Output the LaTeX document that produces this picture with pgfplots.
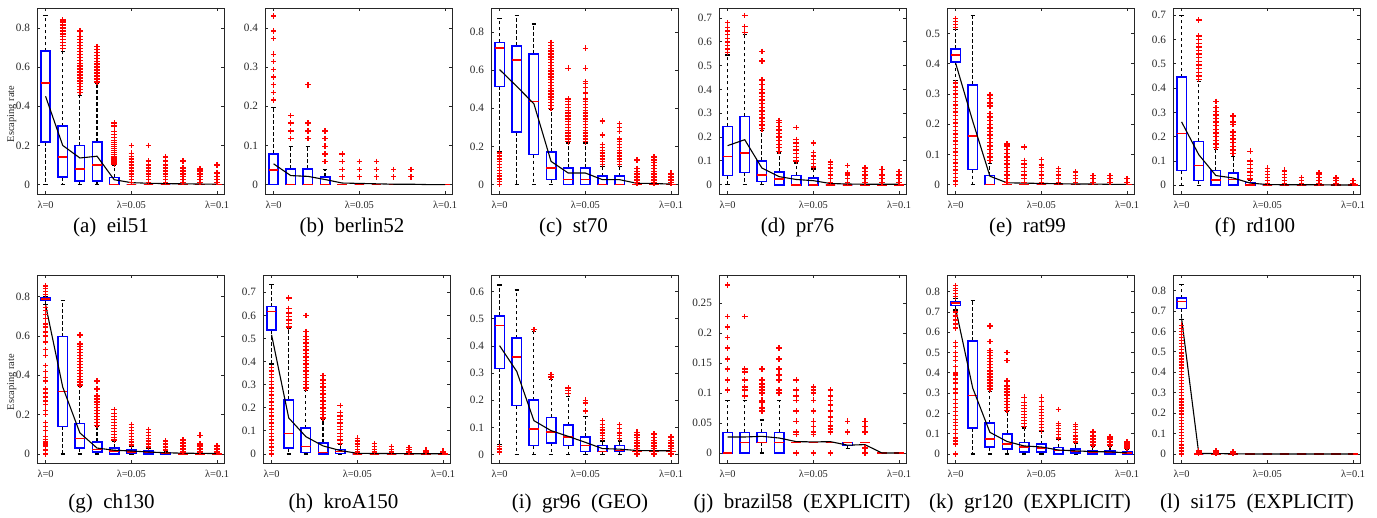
\documentclass[border=0pt]{standalone}
\usepackage{fontspec}
\setmainfont{Liberation Serif}
\usepackage{pgfplots}
\pgfplotsset{compat=1.18}
\usepgfplotslibrary{statistics}
\definecolor{axc}{rgb}{0.15,0.15,0.15}
\definecolor{mblue}{rgb}{0,0,1}
\definecolor{mred}{rgb}{1,0,0}
\pgfplotsset{
  panel/.style={
    scale only axis, anchor=north west, width=93.5pt,
    xmin=-0.5, xmax=10.4,
    xtick={0,5,10}, xticklabels={λ=0,λ=0.05,λ=0.1},
    tick align=inside,
    major tick length=1.6pt,
    axis line style={axc, line width=0.4pt},
    every tick/.style={axc, line width=0.4pt},
    tick label style={text=axc},
    xticklabel style={font=\fontsize{5.2}{6}\selectfont},
    yticklabel style={font=\fontsize{5.6}{6.5}\selectfont, /pgf/number format/fixed, /pgf/number format/precision=2},
    /pgf/number format/assume math mode=true,
    scaled y ticks=false,
    ylabel style={font=\fontsize{5.2}{6}\selectfont, text=axc, at={(axis description cs:-0.135,0.43)}, anchor=center},
    boxplot/draw direction=y,
    boxplot/box extend=0.55,
    boxplot/whisker extend=0.25,
    boxplot/every box/.style={draw=mblue, line width=0.8pt},
    boxplot/every median/.style={draw=mred, line width=0.8pt},
    boxplot/draw/lower whisker/.code={%
      \draw[draw=black, dash pattern=on 1.8pt off 1.2pt, line width=0.55pt]
        (boxplot cs:\pgfplotsboxplotvalue{lower quartile}) -- (boxplot cs:\pgfplotsboxplotvalue{lower whisker});
      \draw[draw=black, solid, line width=0.6pt]
        (boxplot whisker cs:\pgfplotsboxplotvalue{lower whisker},0) -- (boxplot whisker cs:\pgfplotsboxplotvalue{lower whisker},1);
    },
    boxplot/draw/upper whisker/.code={%
      \draw[draw=black, dash pattern=on 1.8pt off 1.2pt, line width=0.55pt]
        (boxplot cs:\pgfplotsboxplotvalue{upper quartile}) -- (boxplot cs:\pgfplotsboxplotvalue{upper whisker});
      \draw[draw=black, solid, line width=0.6pt]
        (boxplot whisker cs:\pgfplotsboxplotvalue{upper whisker},0) -- (boxplot whisker cs:\pgfplotsboxplotvalue{upper whisker},1);
    },
  },
  outl/.style={only marks, mark=+, mark size=1.4pt, color=mred, line width=0.7pt, mark options={solid}},
  meanl/.style={black, line width=0.55pt, mark=none},
}
\newcommand\bx[6]{\addplot[color=mblue, mark=none, boxplot prepared={draw position=#1, lower whisker=#2, lower quartile=#3, median=#4, upper quartile=#5, upper whisker=#6}] coordinates {};}
\newcommand\bxo[7]{\bx{#1}{#2}{#3}{#4}{#5}{#6}\addplot[outl] table[row sep=\\, x expr=#1, y index=0] {y\\#7\\};}
\begin{document}
\begin{tikzpicture}
\path[use as bounding box] (0,0) rectangle (688.5pt,-259pt);
% (a) eil51
\begin{axis}[panel, at={(18.5pt,-4pt)}, height=93pt, ymin=-0.048, ymax=0.902, ytick={0,0.2,0.4,0.6,0.8}, ylabel={Escaping rate}]
\bx{0}{0}{0.218}{0.519}{0.681}{0.865}
\bxo{1}{0}{0.039}{0.14}{0.298}{0.68}{0.695\\0.71\\0.725\\0.74\\0.755\\0.77\\0.785\\0.80\\0.815\\0.83\\0.84}
\bxo{2}{0}{0.019}{0.08}{0.199}{0.456}{0.47\\0.485\\0.50\\0.515\\0.53\\0.545\\0.56\\0.575\\0.59\\0.605\\0.62\\0.635\\0.65\\0.665\\0.68\\0.695\\0.71\\0.725\\0.74\\0.755\\0.785}
\bxo{3}{0}{0.019}{0.10}{0.218}{0.519}{0.525\\0.54\\0.555\\0.57\\0.585\\0.60\\0.615\\0.63\\0.645\\0.66\\0.675\\0.69\\0.705}
\bxo{4}{0}{0}{0}{0.037}{0.099}{0.105\\0.115\\0.125\\0.135\\0.145\\0.155\\0.165\\0.175\\0.185\\0.195\\0.205\\0.215\\0.225\\0.24\\0.255\\0.27\\0.30\\0.315}
\bxo{5}{0}{0}{0}{0}{0}{0.01\\0.025\\0.04\\0.055\\0.07\\0.085\\0.10\\0.115\\0.13\\0.145\\0.16\\0.20}
\bxo{6}{0}{0}{0}{0}{0}{0.01\\0.025\\0.04\\0.055\\0.07\\0.085\\0.10\\0.12\\0.20}
\bxo{7}{0}{0}{0}{0}{0}{0.01\\0.025\\0.04\\0.055\\0.07\\0.085\\0.10\\0.12\\0.14}
\bxo{8}{0}{0}{0}{0}{0}{0.01\\0.025\\0.04\\0.055\\0.07\\0.085\\0.12}
\bxo{9}{0}{0}{0}{0}{0}{0.01\\0.025\\0.04\\0.055\\0.07\\0.08}
\bxo{10}{0}{0}{0}{0}{0}{0.01\\0.025\\0.04\\0.06\\0.10}
\addplot[meanl] coordinates {(0,0.451)(1,0.20)(2,0.136)(3,0.145)(4,0.025)(5,0.01)(6,0.007)(7,0.005)(8,0.004)(9,0.003)(10,0.002)};
\end{axis}
% (b) berlin52
\begin{axis}[panel, at={(132.5pt,-4pt)}, height=93pt, ymin=-0.024, ymax=0.451, ytick={0,0.1,0.2,0.3,0.4}]
\bxo{0}{0}{0}{0.038}{0.078}{0.196}{0.216\\0.235\\0.255\\0.275\\0.294\\0.314\\0.333\\0.373\\0.392\\0.431}
\bxo{1}{0}{0}{0}{0.04}{0.098}{0.118\\0.137\\0.157\\0.176}
\bxo{2}{0}{0}{0}{0.04}{0.098}{0.118\\0.137\\0.157\\0.255}
\bxo{3}{0}{0}{0}{0.02}{0.039}{0.059\\0.078\\0.098\\0.118\\0.137}
\bxo{4}{0}{0}{0}{0}{0}{0.02\\0.039\\0.059\\0.078}
\bxo{5}{0}{0}{0}{0}{0}{0.02\\0.039\\0.059}
\bxo{6}{0}{0}{0}{0}{0}{0.02\\0.039\\0.059}
\bxo{7}{0}{0}{0}{0}{0}{0.02\\0.039}
\bxo{8}{0}{0}{0}{0}{0}{0.02\\0.039}
\bx{9}{0}{0}{0}{0}{0}
\bx{10}{0}{0}{0}{0}{0}
\addplot[meanl] coordinates {(0,0.053)(1,0.023)(2,0.021)(3,0.013)(4,0.004)(5,0.003)(6,0.002)(7,0.001)(8,0.001)(9,0)(10,0)};
\end{axis}
% (c) st70
\begin{axis}[panel, at={(245.5pt,-4pt)}, height=93pt, ymin=-0.049, ymax=0.926, ytick={0,0.2,0.4,0.6,0.8}]
\bxo{0}{0.175}{0.515}{0.716}{0.746}{0.873}{0\\0.015\\0.03\\0.045\\0.06\\0.075\\0.09\\0.105\\0.12\\0.135\\0.15\\0.165}
\bx{1}{0}{0.276}{0.653}{0.728}{0.887}
\bx{2}{0}{0.157}{0.435}{0.685}{0.842}
\bxo{3}{0}{0.026}{0.087}{0.171}{0.393}{0.40\\0.415\\0.43\\0.445\\0.46\\0.475\\0.49\\0.505\\0.52\\0.535\\0.55\\0.565\\0.58\\0.595\\0.61\\0.625\\0.64\\0.655\\0.67\\0.685\\0.70\\0.715\\0.73\\0.745}
\bxo{4}{0}{0}{0.026}{0.087}{0.218}{0.225\\0.24\\0.255\\0.27\\0.285\\0.30\\0.315\\0.33\\0.345\\0.36\\0.375\\0.39\\0.405\\0.42\\0.435\\0.45\\0.61}
\bxo{5}{0}{0}{0.026}{0.087}{0.218}{0.225\\0.24\\0.255\\0.27\\0.285\\0.30\\0.315\\0.33\\0.345\\0.36\\0.375\\0.39\\0.405\\0.42\\0.435\\0.45\\0.48\\0.51\\0.53\\0.54\\0.61\\0.715}
\bxo{6}{0}{0}{0}{0.044}{0.096}{0.105\\0.12\\0.135\\0.15\\0.165\\0.18\\0.195\\0.21\\0.26\\0.33\\0.335}
\bxo{7}{0}{0}{0}{0.044}{0.096}{0.105\\0.12\\0.135\\0.15\\0.165\\0.18\\0.195\\0.21\\0.225\\0.24\\0.28\\0.30\\0.32}
\bxo{8}{0}{0}{0}{0}{0}{0.01\\0.025\\0.04\\0.055\\0.07\\0.085\\0.13}
\bxo{9}{0}{0}{0}{0}{0}{0.01\\0.025\\0.04\\0.055\\0.07\\0.085\\0.10\\0.115\\0.13\\0.145}
\bxo{10}{0}{0}{0}{0}{0}{0.01\\0.025\\0.04\\0.055\\0.06}
\addplot[meanl] coordinates {(0,0.603)(1,0.515)(2,0.424)(3,0.122)(4,0.061)(5,0.061)(6,0.026)(7,0.026)(8,0.007)(9,0.006)(10,0.003)};
\end{axis}
% (d) pr76
\begin{axis}[panel, at={(359.5pt,-4pt)}, height=93pt, ymin=-0.039, ymax=0.742, ytick={0,0.1,0.2,0.3,0.4,0.5,0.6,0.7}]
\bxo{0}{0}{0.039}{0.119}{0.245}{0.545}{0.555\\0.57\\0.585\\0.60\\0.615\\0.63\\0.645\\0.66\\0.68}
\bxo{1}{0}{0.052}{0.133}{0.287}{0.63}{0.64\\0.665\\0.71}
\bxo{2}{0}{0.013}{0.042}{0.10}{0.227}{0.235\\0.25\\0.265\\0.28\\0.295\\0.31\\0.325\\0.34\\0.355\\0.37\\0.385\\0.40\\0.42\\0.44\\0.52\\0.56}
\bxo{3}{0}{0}{0.025}{0.053}{0.133}{0.14\\0.155\\0.17\\0.185\\0.20\\0.215\\0.23\\0.245\\0.26\\0.27}
\bxo{4}{0}{0}{0}{0.039}{0.091}{0.10\\0.115\\0.13\\0.145\\0.16\\0.175\\0.19\\0.24}
\bxo{5}{0}{0}{0}{0.027}{0.066}{0.075\\0.09\\0.105\\0.12\\0.135\\0.175}
\bxo{6}{0}{0}{0}{0}{0}{0.01\\0.025\\0.04\\0.055\\0.07\\0.085\\0.095}
\bxo{7}{0}{0}{0}{0}{0}{0.01\\0.025\\0.04\\0.05\\0.08}
\bxo{8}{0}{0}{0}{0}{0}{0.01\\0.025\\0.04\\0.055\\0.07}
\bxo{9}{0}{0}{0}{0}{0}{0.01\\0.025\\0.04\\0.065}
\bxo{10}{0}{0}{0}{0}{0}{0.01\\0.025\\0.04\\0.055}
\addplot[meanl] coordinates {(0,0.164)(1,0.189)(2,0.07)(3,0.034)(4,0.022)(5,0.017)(6,0.005)(7,0.003)(8,0.002)(9,0.002)(10,0.002)};
\end{axis}
% (e) rat99
\begin{axis}[panel, at={(473.5pt,-4pt)}, height=93pt, ymin=-0.031, ymax=0.585, ytick={0,0.1,0.2,0.3,0.4,0.5}]
\bxo{0}{0.345}{0.407}{0.43}{0.449}{0.513}{0\\0.012\\0.024\\0.036\\0.048\\0.06\\0.072\\0.084\\0.096\\0.108\\0.12\\0.132\\0.144\\0.156\\0.168\\0.18\\0.192\\0.204\\0.216\\0.228\\0.24\\0.252\\0.264\\0.276\\0.288\\0.30\\0.312\\0.324\\0.336\\0.52\\0.53\\0.54\\0.55}
\bx{1}{0}{0.05}{0.162}{0.33}{0.561}
\bxo{2}{0}{0}{0}{0.03}{0.07}{0.08\\0.092\\0.104\\0.116\\0.128\\0.14\\0.152\\0.164\\0.176\\0.188\\0.20\\0.212\\0.224\\0.236\\0.26\\0.27\\0.285\\0.297}
\bxo{3}{0}{0}{0}{0}{0}{0.008\\0.02\\0.032\\0.044\\0.056\\0.068\\0.08\\0.092\\0.104\\0.116\\0.128\\0.135}
\bxo{4}{0}{0}{0}{0}{0}{0.008\\0.02\\0.032\\0.044\\0.056\\0.068\\0.08\\0.125}
\bxo{5}{0}{0}{0}{0}{0}{0.008\\0.02\\0.032\\0.044\\0.056\\0.065\\0.083}
\bxo{6}{0}{0}{0}{0}{0}{0.008\\0.02\\0.032\\0.044\\0.053}
\bxo{7}{0}{0}{0}{0}{0}{0.008\\0.02\\0.03\\0.042}
\bxo{8}{0}{0}{0}{0}{0}{0.008\\0.02\\0.03}
\bxo{9}{0}{0}{0}{0}{0}{0.008\\0.02\\0.03}
\bxo{10}{0}{0}{0}{0}{0}{0.008\\0.02}
\addplot[meanl] coordinates {(0,0.403)(1,0.21)(2,0.028)(3,0.006)(4,0.005)(5,0.004)(6,0.003)(7,0.002)(8,0.002)(9,0.001)(10,0.001)};
\end{axis}
% (f) rd100
\begin{axis}[panel, at={(586.5pt,-4pt)}, height=93pt, ymin=-0.036, ymax=0.730, ytick={0,0.1,0.2,0.3,0.4,0.5,0.6,0.7}]
\bx{0}{0}{0.06}{0.213}{0.445}{0.70}
\bxo{1}{0}{0.019}{0.081}{0.181}{0.428}{0.435\\0.45\\0.465\\0.48\\0.495\\0.51\\0.525\\0.54\\0.555\\0.57\\0.585\\0.60\\0.615\\0.68}
\bxo{2}{0}{0}{0.021}{0.06}{0.147}{0.155\\0.17\\0.185\\0.20\\0.215\\0.23\\0.245\\0.26\\0.275\\0.29\\0.305\\0.32\\0.345}
\bxo{3}{0}{0}{0.023}{0.051}{0.12}{0.13\\0.145\\0.16\\0.175\\0.19\\0.205\\0.22\\0.25\\0.26\\0.285}
\bxo{4}{0}{0}{0}{0.012}{0.02}{0.025\\0.04\\0.055\\0.07\\0.085\\0.10\\0.14}
\bxo{5}{0}{0}{0}{0}{0}{0.008\\0.02\\0.032\\0.044\\0.056\\0.07}
\bxo{6}{0}{0}{0}{0}{0}{0.008\\0.02\\0.032\\0.044\\0.056\\0.062}
\bxo{7}{0}{0}{0}{0}{0}{0.008\\0.02\\0.032}
\bxo{8}{0}{0}{0}{0}{0}{0.008\\0.02\\0.032\\0.044\\0.05}
\bxo{9}{0}{0}{0}{0}{0}{0.008\\0.02\\0.03}
\bxo{10}{0}{0}{0}{0}{0}{0.008\\0.02}
\addplot[meanl] coordinates {(0,0.261)(1,0.126)(2,0.04)(3,0.03)(4,0.009)(5,0.003)(6,0.002)(7,0.002)(8,0.002)(9,0.001)(10,0.001)};
\end{axis}
% (g) ch130
\begin{axis}[panel, at={(18.5pt,-137.5pt)}, height=94pt, ymin=-0.046, ymax=0.910, ytick={0,0.2,0.4,0.6,0.8}, ylabel={Escaping rate}]
\bxo{0}{0.76}{0.78}{0.789}{0.795}{0.80}{0.81\\0.825\\0.84\\0.855\\0\\0.02\\0.04\\0.05\\0.06\\0.075\\0.09\\0.12\\0.14\\0.16\\0.20\\0.22\\0.25\\0.27\\0.29\\0.31\\0.33\\0.37\\0.39\\0.42\\0.45\\0.50\\0.53\\0.57\\0.60\\0.62\\0.645\\0.66\\0.69\\0.71\\0.73\\0.745}
\bx{1}{0}{0.14}{0.318}{0.597}{0.78}
\bxo{2}{0}{0.03}{0.078}{0.154}{0.343}{0.35\\0.365\\0.38\\0.395\\0.41\\0.425\\0.44\\0.455\\0.47\\0.485\\0.50\\0.515\\0.53\\0.545\\0.56\\0.605}
\bxo{3}{0}{0.01}{0.022}{0.061}{0.14}{0.145\\0.16\\0.175\\0.19\\0.205\\0.22\\0.235\\0.25\\0.265\\0.28\\0.295\\0.33\\0.37}
\bxo{4}{0}{0}{0.014}{0.03}{0.064}{0.07\\0.085\\0.10\\0.115\\0.13\\0.145\\0.16\\0.175\\0.19\\0.205\\0.225}
\bxo{5}{0}{0.002}{0.01}{0.019}{0.04}{0.045\\0.06\\0.075\\0.09\\0.105\\0.12\\0.135\\0.15}
\bxo{6}{0}{0}{0.008}{0.014}{0.03}{0.035\\0.05\\0.065\\0.08\\0.095\\0.11\\0.125}
\bxo{7}{0}{0}{0.004}{0.008}{0.015}{0.02\\0.035\\0.05\\0.065}
\bxo{8}{0}{0}{0}{0}{0}{0.01\\0.025\\0.04\\0.055\\0.07}
\bxo{9}{0}{0}{0}{0}{0}{0.01\\0.025\\0.04\\0.05\\0.095}
\bxo{10}{0}{0}{0}{0}{0}{0.01\\0.025\\0.04}
\addplot[meanl] coordinates {(0,0.758)(1,0.34)(2,0.107)(3,0.03)(4,0.019)(5,0.015)(6,0.01)(7,0.006)(8,0.004)(9,0.003)(10,0.002)};
\end{axis}
% (h) kroA150
\begin{axis}[panel, at={(131.5pt,-137.5pt)}, height=94pt, ymin=-0.039, ymax=0.775, ytick={0,0.1,0.2,0.3,0.4,0.5,0.6,0.7}]
\bxo{0}{0.39}{0.537}{0.617}{0.638}{0.735}{0\\0.015\\0.03\\0.045\\0.06\\0.075\\0.09\\0.105\\0.12\\0.135\\0.15\\0.165\\0.18\\0.195\\0.21\\0.225\\0.24\\0.255\\0.27\\0.285\\0.30\\0.315\\0.33\\0.345\\0.36\\0.375}
\bxo{1}{0}{0.026}{0.088}{0.235}{0.545}{0.55\\0.565\\0.58\\0.595\\0.61\\0.63\\0.675}
\bxo{2}{0}{0.007}{0.033}{0.112}{0.275}{0.285\\0.30\\0.315\\0.33\\0.345\\0.36\\0.375\\0.39\\0.405\\0.42\\0.435\\0.45\\0.465\\0.48\\0.495\\0.51\\0.53\\0.60}
\bxo{3}{0}{0}{0.007}{0.048}{0.148}{0.155\\0.17\\0.185\\0.20\\0.215\\0.23\\0.245\\0.26\\0.275\\0.29\\0.305\\0.32\\0.34}
\bxo{4}{0}{0.002}{0.01}{0.019}{0.04}{0.045\\0.06\\0.075\\0.09\\0.105\\0.12\\0.135\\0.15\\0.165\\0.18\\0.21}
\bxo{5}{0}{0}{0}{0}{0}{0.008\\0.02\\0.032\\0.044\\0.056\\0.068}
\bxo{6}{0}{0}{0}{0}{0}{0.008\\0.02\\0.032\\0.045}
\bxo{7}{0}{0}{0}{0}{0}{0.008\\0.02\\0.032}
\bxo{8}{0}{0}{0}{0}{0}{0.008\\0.02\\0.027}
\bxo{9}{0}{0}{0}{0}{0}{0.008\\0.016}
\bxo{10}{0}{0}{0}{0}{0}{0.006\\0.012}
\addplot[meanl] coordinates {(0,0.516)(1,0.156)(2,0.075)(3,0.035)(4,0.015)(5,0.003)(6,0.002)(7,0.002)(8,0.001)(9,0.001)(10,0.001)};
\end{axis}
% (i) gr96
\begin{axis}[panel, at={(245.5pt,-137.5pt)}, height=94pt, ymin=-0.031, ymax=0.661, ytick={0,0.1,0.2,0.3,0.4,0.5,0.6}]
\bxo{0}{0.037}{0.317}{0.475}{0.51}{0.624}{0.01\\0.02\\0.03}
\bx{1}{0}{0.18}{0.359}{0.428}{0.606}
\bxo{2}{0}{0.033}{0.095}{0.20}{0.453}{0.46}
\bxo{3}{0}{0.043}{0.084}{0.137}{0.275}{0.285\\0.295}
\bxo{4}{0}{0.033}{0.065}{0.108}{0.214}{0.225\\0.235\\0.245}
\bxo{5}{0}{0.012}{0.034}{0.065}{0.14}{0.16\\0.19\\0.20}
\bxo{6}{0}{0.012}{0.012}{0.033}{0.05}{0.06\\0.07\\0.08\\0.09\\0.10\\0.11\\0.125}
\bxo{7}{0}{0.012}{0.015}{0.033}{0.05}{0.06\\0.07\\0.08\\0.095\\0.11}
\bxo{8}{0.012}{0.012}{0.012}{0.012}{0.012}{0\\0.002\\0.022\\0.032\\0.042\\0.052\\0.062\\0.072\\0.082}
\bxo{9}{0.012}{0.012}{0.012}{0.012}{0.012}{0\\0.002\\0.022\\0.032\\0.042\\0.052\\0.062\\0.075}
\bxo{10}{0.012}{0.012}{0.012}{0.012}{0.012}{0\\0.002\\0.022\\0.032\\0.042\\0.052\\0.065}
\addplot[meanl] coordinates {(0,0.401)(1,0.306)(2,0.125)(3,0.088)(4,0.067)(5,0.045)(6,0.022)(7,0.02)(8,0.015)(9,0.014)(10,0.014)};
\end{axis}
% (j) brazil58
\begin{axis}[panel, at={(359.5pt,-137.5pt)}, height=94pt, ymin=-0.0167, ymax=0.297, ytick={0,0.05,0.1,0.15,0.2,0.25}]
\bxo{0}{0}{0}{0}{0.0344}{0.0878}{0.105\\0.122\\0.14\\0.157\\0.175\\0.193\\0.21\\0.228\\0.28}
\bxo{1}{0}{0}{0.0178}{0.0344}{0.0878}{0.095\\0.105\\0.11\\0.122\\0.135\\0.14\\0.228}
\bxo{2}{0}{0.0178}{0.0178}{0.0344}{0.055}{0.07\\0.075\\0.085\\0.088\\0.10\\0.105\\0.11\\0.115\\0.122\\0.14}
\bxo{3}{0}{0}{0.0178}{0.0344}{0.0878}{0.10\\0.105\\0.122\\0.13\\0.14\\0.157\\0.175}
\bxo{4}{0.0178}{0.0178}{0.0178}{0.0178}{0.0178}{0\\0.031\\0.035\\0.053\\0.07\\0.088\\0.095\\0.105\\0.122}
\bxo{5}{0.0178}{0.0178}{0.0178}{0.0178}{0.0178}{0\\0.031\\0.035\\0.044\\0.053\\0.07\\0.088\\0.10\\0.105\\0.11}
\bxo{6}{0.0178}{0.0178}{0.0178}{0.0178}{0.0178}{0\\0.035\\0.04\\0.045\\0.053\\0.06\\0.07\\0.08\\0.088\\0.095\\0.105}
\bxo{7}{0.008}{0.0122}{0.0178}{0.0178}{0.0178}{0.035\\0.053}
\bxo{8}{0.0178}{0.0178}{0.0178}{0.0178}{0.0178}{0\\0.008\\0.035\\0.044\\0.053}
\bx{9}{0}{0}{0}{0}{0}
\bx{10}{0}{0}{0}{0}{0}
\addplot[meanl] coordinates {(0,0.0267)(1,0.0267)(2,0.0278)(3,0.025)(4,0.019)(5,0.0185)(6,0.0189)(7,0.013)(8,0.014)(9,0)(10,0)};
\end{axis}
% (k) gr120
\begin{axis}[panel, at={(473.5pt,-137.5pt)}, height=94pt, ymin=-0.044, ymax=0.882, ytick={0,0.1,0.2,0.3,0.4,0.5,0.6,0.7,0.8}]
\bxo{0}{0.71}{0.731}{0.743}{0.751}{0.765}{0.775\\0.79\\0.805\\0.815\\0.83\\0\\0.05\\0.065\\0.08\\0.10\\0.12\\0.14\\0.155\\0.17\\0.19\\0.21\\0.23\\0.25\\0.27\\0.30\\0.32\\0.35\\0.37\\0.39\\0.40\\0.43\\0.46\\0.48\\0.50\\0.53\\0.55\\0.62\\0.64\\0.66\\0.68\\0.70}
\bx{1}{0}{0.128}{0.289}{0.557}{0.756}
\bxo{2}{0}{0.034}{0.075}{0.152}{0.31}{0.32\\0.335\\0.35\\0.365\\0.38\\0.395\\0.41\\0.425\\0.44\\0.455\\0.47\\0.485\\0.50\\0.51\\0.555\\0.63}
\bxo{3}{0}{0.025}{0.051}{0.10}{0.21}{0.215\\0.23\\0.245\\0.26\\0.275\\0.29\\0.305\\0.32\\0.335\\0.36\\0.46\\0.50}
\bxo{4}{0}{0.01}{0.034}{0.057}{0.128}{0.135\\0.15\\0.165\\0.18\\0.195\\0.21\\0.225\\0.24\\0.255\\0.28}
\bxo{5}{0}{0.01}{0.03}{0.049}{0.11}{0.115\\0.13\\0.145\\0.16\\0.175\\0.19\\0.205\\0.22\\0.235\\0.26\\0.28}
\bxo{6}{0}{0}{0.018}{0.033}{0.07}{0.08\\0.095\\0.11\\0.125\\0.14\\0.15\\0.22}
\bxo{7}{0}{0.005}{0.013}{0.025}{0.055}{0.06\\0.075\\0.09\\0.105\\0.12\\0.135\\0.145}
\bxo{8}{0}{0}{0.008}{0.016}{0.04}{0.045\\0.06\\0.075\\0.09\\0.105\\0.11}
\bxo{9}{0}{0}{0.008}{0.016}{0.04}{0.045\\0.06\\0.075\\0.085}
\bxo{10}{0}{0}{0.005}{0.01}{0.025}{0.03\\0.04\\0.05\\0.06}
\addplot[meanl] coordinates {(0,0.718)(1,0.325)(2,0.107)(3,0.062)(4,0.04)(5,0.035)(6,0.02)(7,0.016)(8,0.012)(9,0.011)(10,0.006)};
\end{axis}
% (l) si175
\begin{axis}[panel, at={(586.5pt,-137.5pt)}, height=94pt, ymin=-0.044, ymax=0.876, ytick={0,0.1,0.2,0.3,0.4,0.5,0.6,0.7,0.8}]
\bxo{0}{0.66}{0.713}{0.746}{0.762}{0.83}{0\\0.015\\0.03\\0.045\\0.06\\0.075\\0.09\\0.105\\0.12\\0.135\\0.15\\0.165\\0.18\\0.195\\0.21\\0.225\\0.24\\0.255\\0.27\\0.285\\0.30\\0.315\\0.33\\0.345\\0.36\\0.375\\0.39\\0.405\\0.42\\0.435\\0.45\\0.465\\0.48\\0.495\\0.51\\0.525\\0.54\\0.555\\0.57\\0.585\\0.60\\0.615\\0.63}
\bxo{1}{0}{0}{0}{0}{0}{0.005\\0.015}
\bxo{2}{0}{0}{0}{0}{0}{0.005\\0.015}
\bxo{3}{0}{0}{0}{0}{0}{0.005\\0.01}
\bx{4}{0}{0}{0}{0}{0}
\bx{5}{0}{0}{0}{0}{0}
\bx{6}{0}{0}{0}{0}{0}
\bx{7}{0}{0}{0}{0}{0}
\bx{8}{0}{0}{0}{0}{0}
\bx{9}{0}{0}{0}{0}{0}
\bx{10}{0}{0}{0}{0}{0}
\addplot[meanl] coordinates {(0,0.664)(1,0.003)(2,0.002)(3,0.001)(4,0)(5,0)(6,0)(7,0)(8,0)(9,0)(10,0)};
\end{axis}
% captions
\begin{scope}[every node/.style={anchor=base, font=\fontsize{10.5}{12}\selectfont}]
\node at (55.5pt,-116.5pt) {(a)~~eil51};
\node at (176pt,-116.5pt) {(b)~~berlin52};
\node at (286.75pt,-116.5pt) {(c)~~st70};
\node at (398.75pt,-116.5pt) {(d)~~pr76};
\node at (513.75pt,-116.5pt) {(e)~~rat99};
\node at (627.5pt,-116.5pt) {(f)~~rd100};
\node at (55.75pt,-254pt) {(g)~~ch130};
\node at (171.75pt,-254pt) {(h)~~kroA150};
\node at (290pt,-254pt) {(i)~~gr96~~(GEO)};
\node at (401pt,-254pt) {(j)~~brazil58~~(EXPLICIT)};
\node at (515pt,-254pt) {(k)~~gr120~~(EXPLICIT)};
\node at (628.5pt,-254pt) {(l)~~si175~~(EXPLICIT)};
\end{scope}
\end{tikzpicture}
\end{document}
